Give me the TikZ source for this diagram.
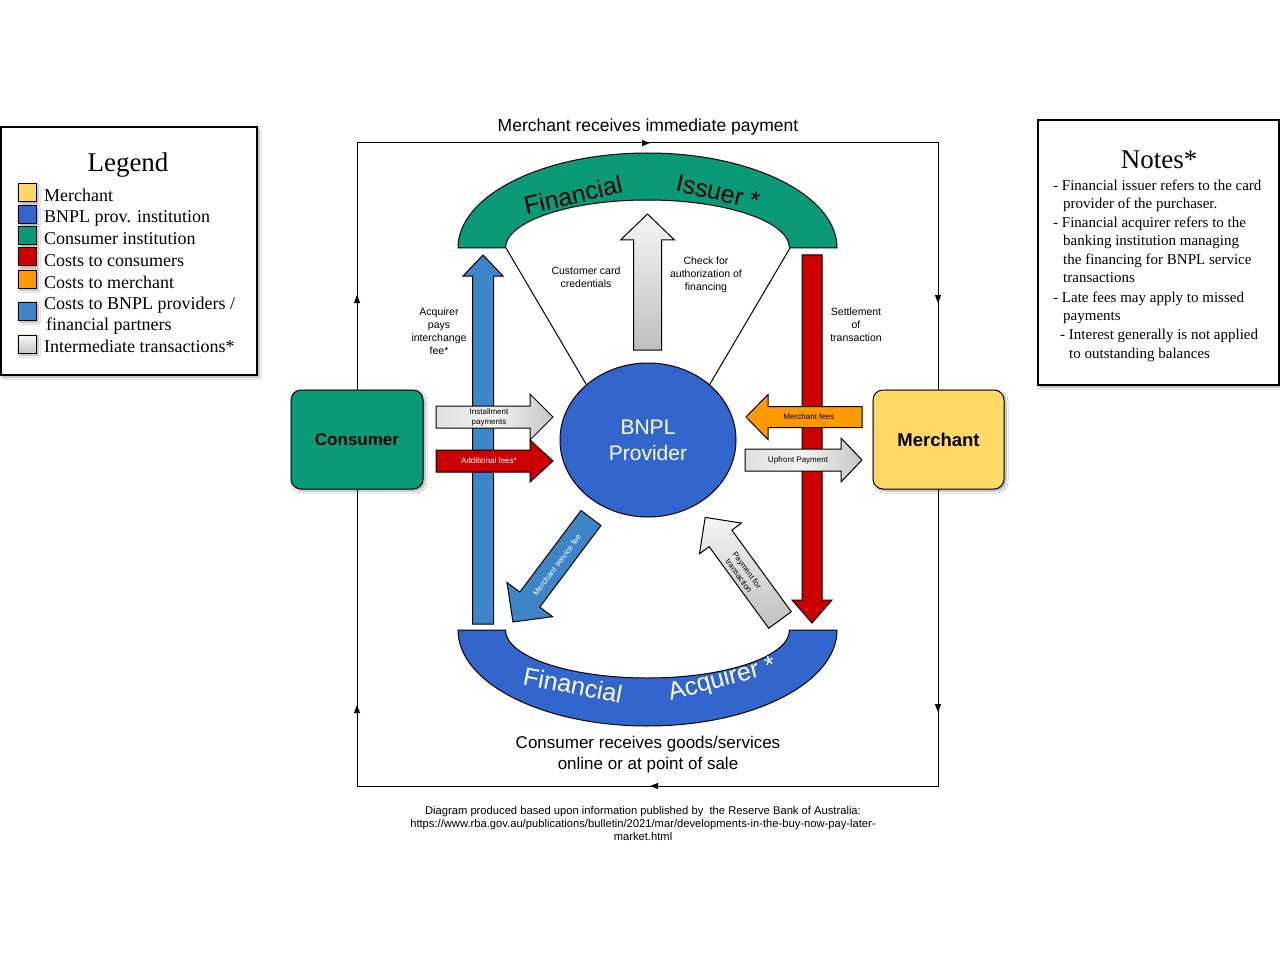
\documentclass[tikz,border=0pt]{standalone}
\usepackage{fontspec}
\setmainfont{Liberation Sans}
\newfontfamily\serifft{Liberation Serif}
\usetikzlibrary{shapes.geometric,arrows.meta,shadows.blur,decorations.markings}
\definecolor{cgreen}{HTML}{0B9A78}
\definecolor{cblue}{HTML}{3366CC}
\definecolor{clblue}{HTML}{3D85C6}
\definecolor{cred}{HTML}{CC0000}
\definecolor{corange}{HTML}{FF9900}
\definecolor{cyellow}{HTML}{FFD966}
\newcommand\fsz[2]{\fontsize{#1}{#2}\selectfont}
% #1 name, #2 style, #3 start, #4 angle, #5 length, #6 shaft, #7 head width, #8 head length
\newcommand\blockarr[8]{%
\begin{scope}[shift={#3},rotate=#4]
\path[#2] (0,-#6/2) -- (#5-#8,-#6/2) -- (#5-#8,-#7/2) -- (#5,0) -- (#5-#8,#7/2) -- (#5-#8,#6/2) -- (0,#6/2) -- cycle;
\coordinate (#1) at (#5/2,0);
\end{scope}}
\begin{document}
\begin{tikzpicture}[x=1pt,y=-1pt,
  edgeline/.style={draw=black,line width=1pt,line join=miter},
  barr/.style={edgeline},
  grayarr/.style={edgeline,top color=gray!8,bottom color=gray!50},
  grayarrh/.style={edgeline,left color=gray!25,right color=gray!45,middle color=gray!10},
  boxshadow/.style={blur shadow={shadow xshift=2pt,shadow yshift=-2pt,shadow blur steps=6,shadow opacity=35}},
  lbox/.style={draw=black,line width=1pt,minimum width=18pt,minimum height=18pt,inner sep=0pt,boxshadow},
  ltext/.style={anchor=base west,inner sep=0pt,font=\serifft\fsz{18}{20}},
  ntext/.style={anchor=base west,inner sep=0pt,font=\serifft\fsz{15}{18}},
  smalllab/.style={align=center,font=\fsz{10.5}{13},inner sep=0pt},
  arrlab/.style={align=center,font=\fsz{8}{10},inner sep=0pt},
  looptip/.style={postaction={decorate},decoration={markings,
    mark=at position 0.1197 with {\arrow{Triangle[length=8pt,width=6pt]}},
    mark=at position 0.3027 with {\arrow{Triangle[length=8pt,width=6pt]}},
    mark=at position 0.4698 with {\arrow{Triangle[length=8pt,width=6pt]}},
    mark=at position 0.6176 with {\arrow{Triangle[length=8pt,width=6pt]}},
    mark=at position 0.7704 with {\arrow{Triangle[length=8pt,width=6pt]}},
    mark=at position 0.9379 with {\arrow{Triangle[length=8pt,width=6pt]}}}}
]
\fill[white] (0,0) rectangle (1280,960);
\useasboundingbox (0,0) rectangle (1280,960);

% outer loop
\coordinate (tl) at (357,143);
\coordinate (tr) at (938,143);
\coordinate (br) at (938,786);
\coordinate (bl) at (357,786);
\draw[line width=1pt,looptip] (tl) -- (tr) -- (br) -- (bl) -- cycle;

\node[font=\fsz{17.5}{20}] (toplab) at (648,127) {Merchant receives immediate payment};
\node[font=\fsz{17}{21},align=center] (botlab) at (648,755) {Consumer receives goods/services\\online or at point of sale};
\node[font=\fsz{11.2}{13},align=center] (foot) at (643,823) {Diagram produced based upon information published by\ \ the Reserve Bank of Australia:\\https://www.rba.gov.au/publications/bulletin/2021/mar/developments-in-the-buy-now-pay-later-\\market.html};

% Financial issuer
\path[edgeline,fill=cgreen] (458,248) arc[start angle=180,end angle=0,x radius=189.5pt,y radius=95pt]
  -- (789.5,248) arc[start angle=0,end angle=180,x radius=142pt,y radius=48pt] -- cycle;
\coordinate (issL) at (506,248);
\coordinate (issR) at (790,248);
\node[font=\fsz{25}{30},rotate=13] (iss1) at (573,195) {Financial};
\node[font=\fsz{25}{30},rotate=-13] (iss2) at (718,192) {Issuer *};

% Financial acquirer
\path[edgeline,fill=cblue] (458,630) arc[start angle=180,end angle=360,x radius=189.5pt,y radius=96pt]
  -- (789.5,630) arc[start angle=360,end angle=180,x radius=142pt,y radius=48pt] -- cycle;
\node[font=\fsz{25}{30},rotate=-11,text=white] (acq1) at (573,685) {Financial};
\node[font=\fsz{25}{30},rotate=15,text=white] (acq2) at (722,680) {Acquirer *};

% BNPL provider
\node[ellipse,draw=black,line width=1pt,fill=cblue,minimum width=176pt,minimum height=154pt,inner sep=0pt] (bnpl) at (648,440) {};
\node[text=white,align=center,font=\fsz{21}{26}] (bnpltxt) at (648,440) {BNPL\\Provider};
\draw[line width=1pt] (issL) -- (bnpl.138);
\draw[line width=1pt] (issR) -- (bnpl.42);

% vertical arrows
\blockarr{blueup}{barr,fill=clblue}{(483,624)}{90}{369}{21}{40}{21}
\blockarr{reddown}{barr,fill=cred}{(812,255)}{-90}{368}{20}{40}{23}
\blockarr{grayup}{grayarr}{(647.5,350)}{90}{136}{28}{54}{26}

% horizontal arrows
\blockarr{inst}{grayarrh}{(436,417)}{0}{117}{22}{46}{23}
\blockarr{addf}{barr,fill=cred}{(436,461)}{0}{117}{22}{42}{23}
\blockarr{mfee}{barr,fill=corange}{(862,417)}{180}{116}{21}{45}{22}
\blockarr{upfr}{grayarrh}{(745,460)}{0}{117}{22}{44}{21}

% diagonal arrows
\blockarr{msf}{barr,fill=clblue}{(591,518)}{-126.9}{130}{25}{57}{28}
\blockarr{pft}{grayarr}{(780,620)}{126.1}{127}{28}{52}{26}

% arrow labels
\node[arrlab] at (489,417) {Installment\\payments};
\node[arrlab,text=white] at (489,461) {Additional fees*};
\node[arrlab] at (809,417) {Merchant fees};
\node[arrlab] at (798,460) {Upfront Payment};
\node[arrlab,text=white,rotate=53] at (557,565) {Merchant service fee};
\node[arrlab,rotate=-54] at (743,573) {Payment for\\transaction};

\node[smalllab] at (439,331) {Acquirer\\pays\\interchange\\fee*};
\node[smalllab] at (586,277) {Customer card\\credentials};
\node[smalllab] at (706,275) {Check for\\authorization of\\financing};
\node[smalllab] at (856,325) {Settlement\\of\\transaction};

% consumer / merchant
\node[draw=black,line width=1pt,rounded corners=10pt,fill=cgreen,minimum width=132pt,minimum height=99pt,boxshadow,font=\bfseries\fsz{17}{20}] (consumer) at (357,439.5) {Consumer};
\node[draw=black,line width=1pt,rounded corners=10pt,fill=cyellow,minimum width=131pt,minimum height=99pt,boxshadow,font=\bfseries\fsz{18.5}{20}] (merchant) at (938.5,439.5) {Merchant};

% Legend
\draw[line width=1.3pt,fill=white,boxshadow] (1,127) rectangle (257,375);
\node[font=\serifft\fsz{27}{30}] (legtitle) at (128,165) {Legend};
\node[lbox,fill=cyellow] (l1) at (27,193) {};
\node[lbox,fill=cblue] (l2) at (27,215) {};
\node[lbox,fill=cgreen] (l3) at (27,236) {};
\node[lbox,fill=cred] (l4) at (27,257) {};
\node[lbox,fill=corange] (l5) at (27,279) {};
\node[lbox,fill=clblue] (l6) at (27,311) {};
\node[lbox,top color=gray!5,bottom color=gray!45] (l7) at (27,344) {};
\node[ltext] at (44,202) {Merchant};
\node[ltext] at (44,223) {BNPL prov. institution};
\node[ltext] at (44,245) {Consumer institution};
\node[ltext] at (44,266) {Costs to consumers};
\node[ltext] at (44,288) {Costs to merchant};
\node[ltext] at (44,309) {Costs to BNPL providers /};
\node[ltext] at (46,330) {financial partners};
\node[ltext] at (44,352) {Intermediate transactions*};

% Notes
\draw[line width=1.3pt,fill=white,boxshadow] (1038,120) rectangle (1279,385);
\node[font=\serifft\fsz{27}{30}] (notestitle) at (1159,160) {Notes*};
\node[ntext] at (1053,190.5) {- Financial issuer refers to the card};
\node[ntext] at (1063,209) {provider of the purchaser.};
\node[ntext] at (1053,227.5) {- Financial acquirer refers to the};
\node[ntext] at (1063,246) {banking institution managing};
\node[ntext] at (1063,264.5) {the financing for BNPL service};
\node[ntext] at (1063,283) {transactions};
\node[ntext] at (1053,302) {- Late fees may apply to missed};
\node[ntext] at (1063,320.5) {payments};
\node[ntext] at (1060,339) {- Interest generally is not applied};
\node[ntext] at (1069,358) {to outstanding balances};
\end{tikzpicture}
\end{document}
